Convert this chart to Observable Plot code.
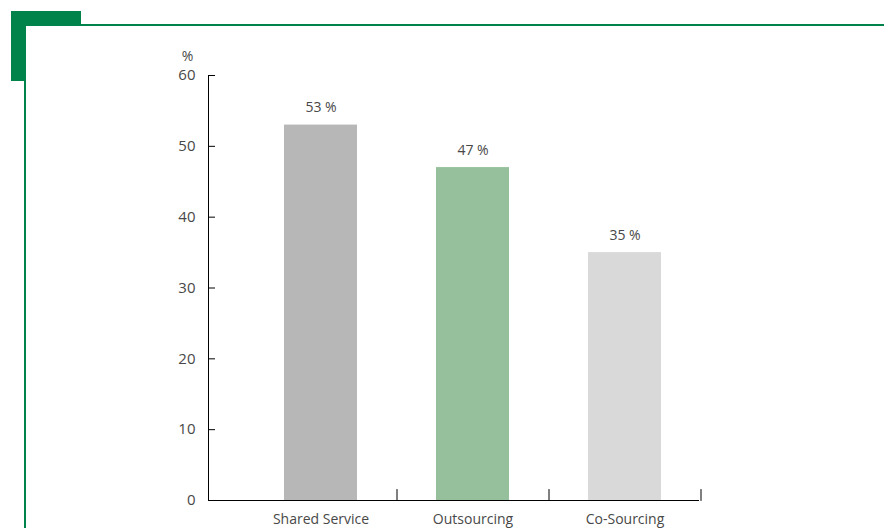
<!DOCTYPE html>
<html>
<head>
<meta charset="utf-8">
<script src="https://cdn.jsdelivr.net/npm/d3@7"></script>
<script src="https://cdn.jsdelivr.net/npm/@observablehq/plot@0.6"></script>
<style>
  html, body { margin: 0; padding: 0; background: #ffffff; }
  #wrap { position: relative; width: 885px; height: 528px; overflow: hidden; }
  .sq { position: absolute; left: 11px; top: 11px; width: 70px; height: 70px; background: #00834a; }
  .panel { position: absolute; left: 24px; top: 24px; width: 858px; height: 600px;
           border-top: 2px solid #00834a; border-left: 2px solid #00834a; background: #ffffff; }
  #chart { position: absolute; left: 0; top: 0; }
</style>
</head>
<body>
<div id="wrap">
  <div class="sq"></div>
  <div class="panel"></div>
  <div id="chart"></div>
</div>
<script>
const categories = ["Shared Service", "Outsourcing", "Co-Sourcing"];
const values = [53, 47, 35];
const valueLabels = ["53 %", "47 %", "35 %"];
const barColors = ["#b7b7b7", "#95c09b", "#d9d9d9"];
const yTicks = [0, 10, 20, 30, 40, 50, 60];
const unitLabel = "%";

const data = categories.map((c, i) => ({cat: c, value: values[i], label: valueLabels[i]}));

const textColor = "#484848";

const chart = Plot.plot({
  width: 885,
  height: 528,
  marginLeft: 208,
  marginRight: 186,
  marginTop: 75,
  marginBottom: 28,
  style: {fontFamily: "'Open Sans', sans-serif", fontSize: "15px", color: textColor, background: "transparent", overflow: "visible"},
  x: {domain: categories, range: [244.5, 700.5], paddingInner: 0.52, paddingOuter: 0.26, axis: null},
  y: {domain: [0, 60], axis: null},
  color: {domain: categories, range: barColors},
  marks: [
    Plot.barY(data, {x: "cat", y: "value", fill: "cat"}),
    Plot.text(data, {x: "cat", y: "value", text: "label", dy: -17.5, fill: textColor, fontSize: 14}),
    Plot.frame({anchor: "left", stroke: "#000", strokeWidth: 1}),
    Plot.ruleY([0], {stroke: "#000", strokeWidth: 1}),
    Plot.axisY({ticks: yTicks, tickSize: -7, tickPadding: 20, tickFormat: d => String(d), label: null, stroke: "#000", fill: textColor, fontSize: 15}),
    Plot.axisX({tickSize: 0, tickPadding: 14, label: null, fill: textColor, fontSize: 14}),
    Plot.vector(categories, {
      x: d => d, y: () => 0, dx: 76, length: 11, anchor: "start", rotate: 0, stroke: "#000", strokeWidth: 1,
      shape: {draw(context, l) { context.moveTo(0, 0); context.lineTo(0, -l); }}
    }),
    Plot.text([unitLabel], {frameAnchor: "top-left", textAnchor: "middle", lineAnchor: "middle", dx: -21, dy: -18.5, fill: textColor, fontSize: 14})
  ]
});
document.getElementById("chart").appendChild(chart);
</script>
</body>
</html>
